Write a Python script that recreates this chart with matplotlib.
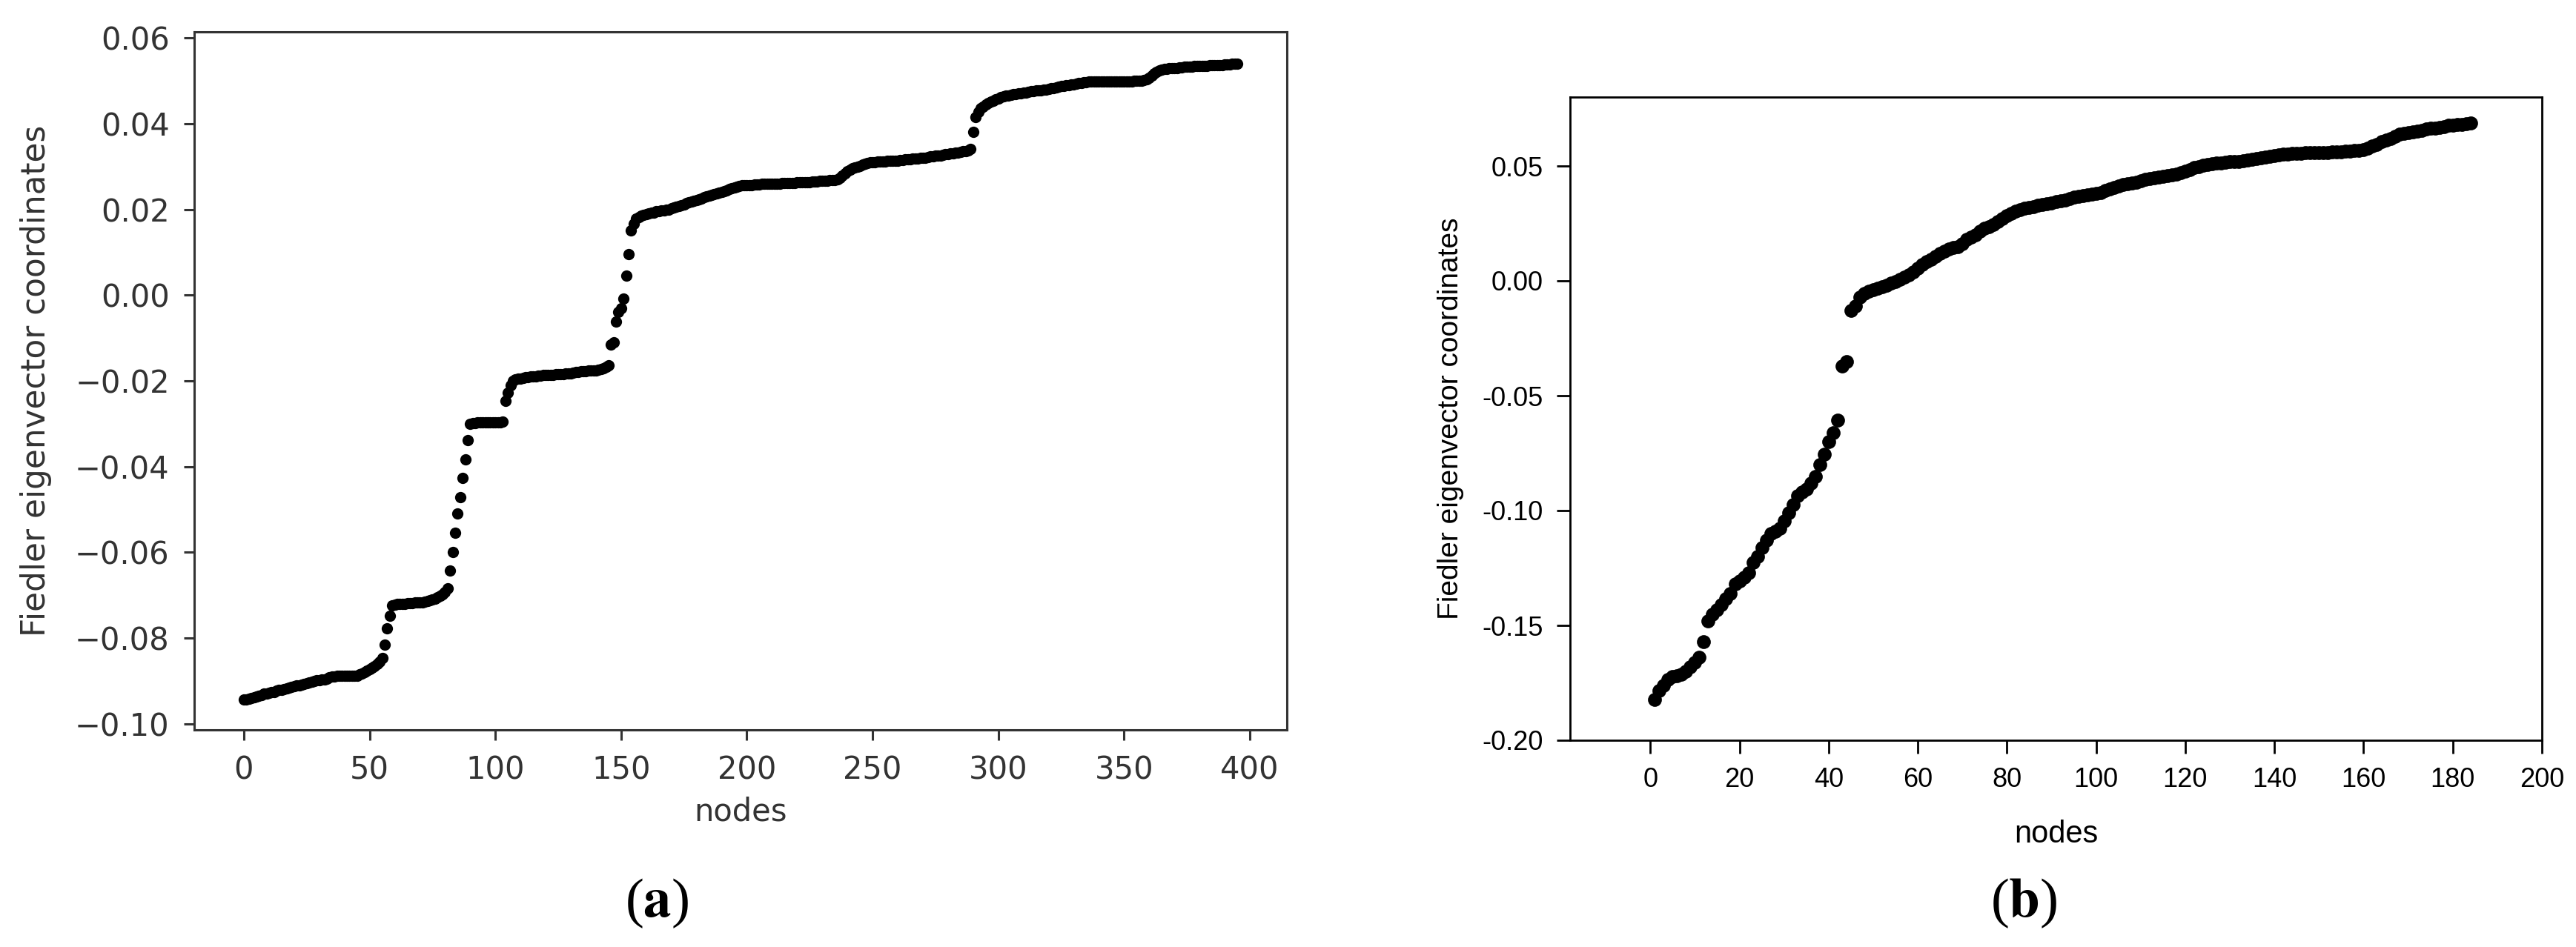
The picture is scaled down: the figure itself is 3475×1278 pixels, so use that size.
import numpy as np
import matplotlib
matplotlib.use("Agg")
import matplotlib.pyplot as plt

# panel (a): sorted Fiedler vector coordinates, in units of 1e-4
fiedler_a = [
    -944, -943, -942, -940, -938, -936, -934, -932, -930, -929,
    -927, -926, -925, -923, -921, -920, -919, -917, -915, -913,
    -912, -911, -910, -908, -906, -905, -904, -902, -900, -899,
    -898, -897, -896, -894, -892, -890, -889, -888, -887, -887,
    -887, -888, -888, -888, -888, -887, -885, -882, -879, -876,
    -872, -869, -865, -861, -855, -846,
    -815, -777, -748,
    -724, -722, -721, -720, -720, -720, -719, -719, -718, -717,
    -716, -716, -716, -715, -714, -712, -710, -708, -705, -702,
    -698, -692, -684,
    -642, -599, -554, -510, -472, -427, -383, -339,
    -300, -298, -298, -297, -297, -297, -297, -297, -297, -296,
    -296, -296, -296, -295,
    -247, -228, -210,
    -200, -197, -195, -194, -193, -192, -191, -190, -190, -189,
    -188, -188, -187, -187, -186, -186, -186, -185, -185, -184,
    -184, -183, -183, -182, -181, -180, -179, -178, -177, -177,
    -176, -176, -175, -175, -174, -173, -171, -168, -164,
    -115, -110, -61, -40, -31, -8, 45, 96, 151, 166,
    178, 182, 185, 187, 189, 191, 192, 193, 195, 196,
    197, 198, 199, 200, 202, 204, 206, 208, 210, 212,
    214, 216, 218, 220, 222, 224, 226, 228, 230, 232,
    233, 235, 237, 239, 241, 243, 245, 247, 249, 251, 253,
    255, 256, 256, 257, 257, 257, 258, 258, 258, 259,
    259, 259, 259, 260, 260, 260, 260, 261,
    261, 261, 262, 262, 262, 263, 263, 263, 264, 264,
    264, 265, 265, 265, 266, 266, 267, 267, 268, 268, 269, 270,
    273, 278, 284, 289, 293, 296, 298, 300, 302, 304, 306,
    308, 309, 310, 310, 311, 311, 312, 312, 313, 313,
    313, 314, 314, 315, 315, 316, 316, 317,
    318, 318, 319, 320, 321, 321, 322, 323, 324, 325, 325, 326, 327, 328,
    329, 330, 331, 332, 333, 334, 335, 336, 338, 341,
    380,
    415, 428, 436, 440, 444, 448, 451, 454, 457, 459, 462,
    464, 465, 466, 467, 468, 469, 470, 471, 472, 473, 474,
    475, 476, 477, 477, 478, 479, 480, 481, 482, 483, 484,
    486, 487, 488, 489, 490, 491, 492, 493, 494, 495, 496, 497, 498, 499,
    498, 498, 499, 499, 499, 499, 499, 499, 499, 499, 499,
    499, 499, 499, 499, 499, 500, 500, 500, 500, 501, 503,
    507, 512, 517, 521, 524, 526, 527,
    528, 529, 529, 530, 530, 531, 531, 532, 532, 533, 533,
    534, 534, 534, 535, 535, 535, 536, 536, 536, 537,
    537, 537, 538, 538, 538, 539, 539, 540,
]

# panel (b): sorted Fiedler vector coordinates (nodes 1..184), units of 1e-4
fiedler_b = [
    -1822, -1785, -1760, -1735, -1722, -1718, -1712, -1700, -1682, -1660,
    -1640, -1570, -1482, -1450, -1432, -1410, -1385, -1360, -1320, -1305,
    -1290, -1270, -1225, -1200, -1160, -1130, -1100, -1090, -1078, -1045,
    -1010, -975, -935, -920, -908, -880, -850, -800, -755, -700,
    -660, -605, -370, -350, -130, -110, -70, -55, -45, -38,
    -32, -26, -20, -10, -2, 8, 15, 25, 40, 55,
    70, 85, 95, 105, 118, 130, 140, 145, 150, 160,
    180, 190, 200, 215, 228, 236, 245, 258, 272, 285,
    295, 303, 310, 316, 320, 324, 328, 332, 336, 340,
    344, 348, 352, 358, 364, 368, 371, 374, 377, 380,
    385, 392, 400, 408, 414, 418, 422, 426, 430, 436,
    442, 446, 449, 452, 455, 458, 461, 465, 470, 478,
    484, 492, 498, 503, 507, 510, 512, 514, 516, 518,
    519, 520, 522, 525, 528, 532, 536, 539, 542, 545,
    548, 551, 553, 554, 555, 556, 557, 557, 558, 558,
    559, 559, 560, 561, 562, 563, 565, 567, 569, 572,
    578, 586, 595, 605, 612, 620, 630, 638, 643, 646,
    649, 652, 656, 660, 663, 665, 668, 672, 676, 678,
    680, 682, 684, 686,
]

a_yticks = [-0.10, -0.08, -0.06, -0.04, -0.02, 0.00, 0.02, 0.04, 0.06]
a_xticks = [0, 50, 100, 150, 200, 250, 300, 350, 400]
b_yticks = [-0.20, -0.15, -0.10, -0.05, 0.00, 0.05]
b_xticks = [0, 20, 40, 60, 80, 100, 120, 140, 160, 180, 200]

W, H = 3475, 1278
fig = plt.figure(figsize=(W / 100, H / 100), dpi=100)


def px_axes(left, top, right, bottom):
    return fig.add_axes([left / W, 1 - bottom / H, (right - left) / W, (bottom - top) / H])


# ---- (a): matplotlib-style panel
ax = px_axes(262, 43, 1736, 985)
ya = np.array(fiedler_a) * 1e-4
ax.plot(np.arange(len(ya)), ya, "o", color="black", ms=11, mec="none")
ax.set_xlim(-19.75, 414.75)
ax.set_ylim(-0.1014, 0.0614)
ax.set_xticks(a_xticks)
ax.set_yticks(a_yticks)
ax.set_yticklabels([f"{v:.2f}".replace("-", "\u2212") for v in a_yticks])
gray = "#333333"
for s in ax.spines.values():
    s.set_linewidth(2.2)
    s.set_color(gray)
ax.tick_params(direction="out", length=10, width=2.2, color=gray, labelcolor=gray,
               labelsize=30, pad=14)
for lab in ax.get_xticklabels() + ax.get_yticklabels():
    lab.set_family("DejaVu Sans")
ax.set_xlabel("nodes", fontsize=30, color=gray, family="DejaVu Sans", labelpad=10)
ax.set_ylabel("Fiedler eigenvector coordinates", fontsize=31.5, color=gray,
              family="DejaVu Sans", labelpad=22)

# ---- (b): SigmaPlot-style panel
bx = px_axes(2118, 131, 3429, 999)
yb = np.array(fiedler_b) * 1e-4
bx.plot(np.arange(1, len(yb) + 1), yb, "o", color="black", ms=13.5, mec="none")
bx.set_xlim(-18, 200)
bx.set_ylim(-0.20, 0.08)
bx.set_xticks(b_xticks)
bx.set_yticks(b_yticks)
bx.set_yticklabels([f"{v:.2f}" for v in b_yticks])
for s in bx.spines.values():
    s.set_linewidth(2.0)
    s.set_color("black")
bx.tick_params(direction="out", length=13, width=2.0, labelsize=26, pad=13)
for lab in bx.get_xticklabels() + bx.get_yticklabels():
    lab.set_family("Liberation Sans")
bx.set_xlabel("nodes", fontsize=30, family="Liberation Sans", labelpad=26)
bx.set_ylabel("Fiedler eigenvector coordinates", fontsize=28, family="Liberation Sans",
              labelpad=18)

# ---- panel letters
plt.rcParams["mathtext.fontset"] = "stix"
for lbl, xc in (("a", 886), ("b", 2730)):
    fig.text(xc / W, 1 - 1219 / H, "(" + r"$\mathbf{" + lbl + "}$" + ")",
             fontsize=54, family="Liberation Serif", ha="center", va="center")

fig.savefig("out.png", dpi=100, facecolor="white")
